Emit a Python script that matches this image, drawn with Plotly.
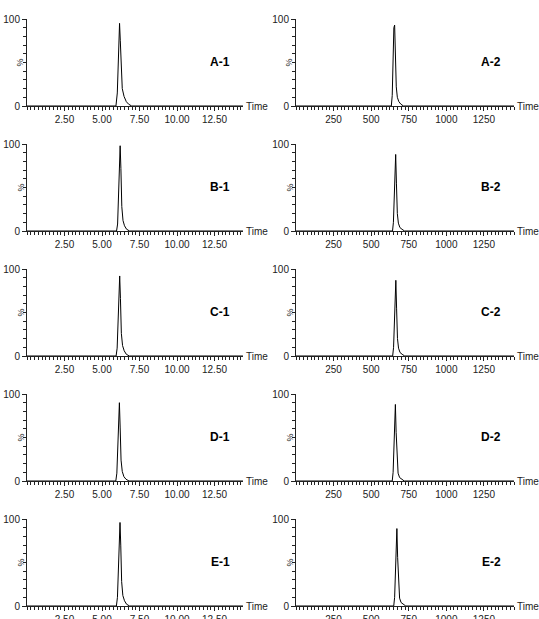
import plotly.graph_objects as go

W, H = 539, 619

# ---- data ----
panel_labels = ["A-1", "A-2", "B-1", "B-2", "C-1", "C-2", "D-1", "D-2", "E-1", "E-2"]

A1_t = [0, 5.93, 6.02, 6.08, 6.13, 6.17, 6.22, 6.28, 6.35, 6.47, 6.62, 6.78, 6.98, 14.4]
A1_i = [0, 0, 15, 50, 88, 95, 75, 35, 20, 11, 5, 2, 0, 0]
A2_t = [0, 6.34, 6.40, 6.46, 6.51, 6.56, 6.61, 6.67, 6.74, 6.84, 6.98, 7.15, 14.5]
A2_i = [0, 0, 12, 60, 90, 93, 60, 22, 10, 5, 2, 0, 0]
B1_t = [0, 5.97, 6.04, 6.10, 6.16, 6.21, 6.26, 6.32, 6.40, 6.50, 6.64, 6.84, 14.4]
B1_i = [0, 0, 8, 40, 90, 98, 72, 28, 12, 6, 2, 0, 0]
B2_t = [0, 6.42, 6.48, 6.53, 6.58, 6.63, 6.68, 6.74, 6.81, 6.91, 7.05, 7.22, 14.5]
B2_i = [0, 0, 10, 45, 80, 88, 55, 20, 9, 4, 2, 0, 0]
C1_t = [0, 5.94, 6.01, 6.07, 6.13, 6.18, 6.23, 6.29, 6.37, 6.48, 6.62, 6.82, 14.4]
C1_i = [0, 0, 9, 42, 85, 92, 66, 26, 12, 6, 2, 0, 0]
C2_t = [0, 6.43, 6.49, 6.54, 6.59, 6.64, 6.69, 6.75, 6.82, 6.92, 7.06, 7.23, 14.5]
C2_i = [0, 0, 10, 48, 82, 87, 55, 20, 9, 4, 2, 0, 0]
D1_t = [0, 5.92, 5.99, 6.05, 6.11, 6.16, 6.21, 6.27, 6.35, 6.46, 6.60, 6.80, 14.4]
D1_i = [0, 0, 9, 42, 84, 90, 62, 24, 11, 5, 2, 0, 0]
D2_t = [0, 6.40, 6.46, 6.51, 6.56, 6.61, 6.66, 6.72, 6.79, 6.89, 7.03, 7.20, 14.5]
D2_i = [0, 0, 10, 46, 82, 88, 56, 21, 9, 4, 2, 0, 0]
E1_t = [0, 5.96, 6.03, 6.09, 6.15, 6.20, 6.25, 6.31, 6.39, 6.50, 6.64, 6.84, 14.4]
E1_i = [0, 0, 10, 45, 90, 96, 70, 28, 12, 6, 2, 0, 0]
E2_t = [0, 6.50, 6.56, 6.61, 6.66, 6.71, 6.76, 6.82, 6.89, 6.99, 7.13, 7.30, 14.5]
E2_i = [0, 0, 10, 46, 82, 89, 56, 21, 9, 4, 2, 0, 0]

series_t = [A1_t, A2_t, B1_t, B2_t, C1_t, C2_t, D1_t, D2_t, E1_t, E2_t]
series_i = [A1_i, A2_i, B1_i, B2_i, C1_i, C2_i, D1_i, D2_i, E1_i, E2_i]

x_tickvals = [2.5, 5.0, 7.5, 10.0, 12.5]
x_ticktext_left = ["2.50", "5.00", "7.50", "10.00", "12.50"]
x_ticktext_right = ["250", "500", "750", "1000", "1250"]
y_tickvals = [0, 100]
y_ticktext = ["0", "100"]
x_ranges = [[0, 14.4], [0, 14.5]]

# ---- layout geometry (page pixels) ----
col_x = [(27, 243), (296, 514)]
row_bottom = [106, 231, 356, 481, 606]
plot_h = 87


def fx(px):
    return px / W


def fy(py):
    return (H - py) / H


ink = "#222222"
font_fam = "Liberation Sans, Arial, sans-serif"

fig = go.Figure()
layout = dict(
    width=W, height=H,
    margin=dict(l=0, r=0, t=0, b=0, autoexpand=False),
    paper_bgcolor="white", plot_bgcolor="white",
    showlegend=False,
    font=dict(family=font_fam, size=10, color=ink),
)
annotations = []

for k in range(10):
    r, c = divmod(k, 2)
    n = k + 1
    xa = "xaxis" if n == 1 else f"xaxis{n}"
    ya = "yaxis" if n == 1 else f"yaxis{n}"
    xref = "x" if n == 1 else f"x{n}"
    yref = "y" if n == 1 else f"y{n}"
    x0, x1 = col_x[c]
    yb = row_bottom[r]
    yt = yb - plot_h
    fig.add_trace(go.Scatter(
        x=series_t[k], y=series_i[k], mode="lines",
        line=dict(color="black", width=1),
        xaxis=xref, yaxis=yref, hoverinfo="skip"))
    layout[xa] = dict(
        domain=[fx(x0), fx(x1)], anchor=yref, range=x_ranges[c], automargin=False,
        showgrid=False, zeroline=False, showline=True, linecolor=ink, linewidth=1,
        tickmode="array", tickvals=x_tickvals,
        ticktext=x_ticktext_left if c == 0 else x_ticktext_right,
        ticks="outside", ticklen=4, tickcolor=ink, tickwidth=1,
        tickfont=dict(size=10, color=ink, family=font_fam),
        minor=dict(tickmode="linear", tick0=0, dtick=0.25, ticks="outside",
                   ticklen=3, tickcolor=ink, tickwidth=1, showgrid=False),
        fixedrange=True,
    )
    layout[ya] = dict(
        domain=[fy(yb), fy(yt)], anchor=xref, range=[0, 100], automargin=False,
        showgrid=False, zeroline=False, showline=True, linecolor=ink, linewidth=1,
        tickmode="array", tickvals=y_tickvals, ticktext=y_ticktext,
        ticks="outside", ticklen=4, tickcolor=ink, tickwidth=1,
        tickfont=dict(size=10, color=ink, family=font_fam),
        minor=dict(tickmode="linear", tick0=0, dtick=10, ticks="outside",
                   ticklen=3, tickcolor=ink, tickwidth=1, showgrid=False),
        fixedrange=True,
    )
    # "%" label
    annotations.append(dict(
        x=fx(x0 - 7), y=fy((yb + yt) / 2), xref="paper", yref="paper",
        text="%", textangle=-90, showarrow=False, xanchor="center", yanchor="middle",
        font=dict(size=9, color=ink, family=font_fam)))
    # "Time" label
    annotations.append(dict(
        x=fx(x1 + 1), y=fy(yb), xref="paper", yref="paper",
        text="Time", showarrow=False, xanchor="left", yanchor="middle",
        font=dict(size=10, color=ink, family=font_fam)))
    # sample label
    annotations.append(dict(
        x=fx(x1 - 23), y=fy(yb - 44), xref="paper", yref="paper",
        text=f"<b>{panel_labels[k]}</b>", showarrow=False, xanchor="center", yanchor="middle",
        font=dict(size=12, color="black", family=font_fam)))

layout["annotations"] = annotations
fig.update_layout(**layout)
fig.write_html("out.html",
               config={"displayModeBar": False, "staticPlot": True},
               post_script="document.body.style.margin='0';document.body.style.overflow='hidden';")
